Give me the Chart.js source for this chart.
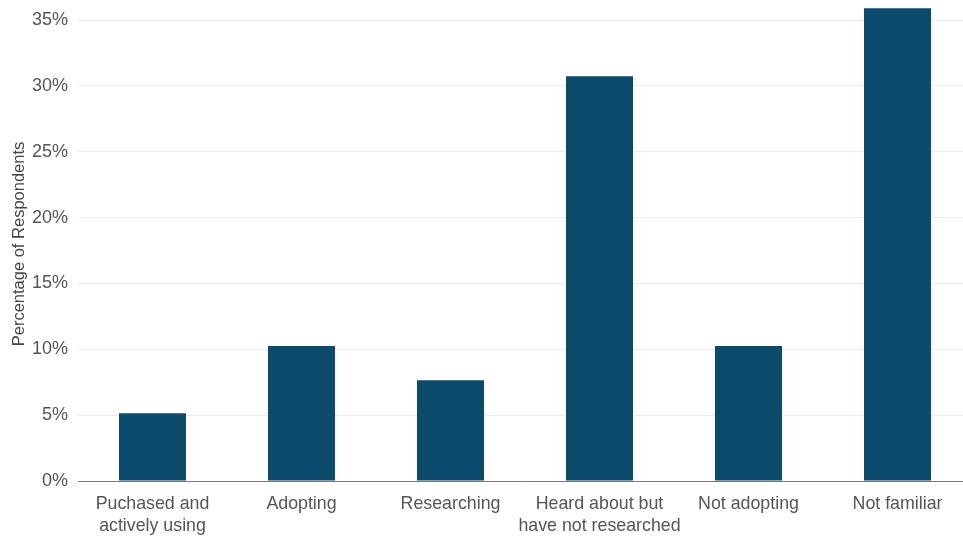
<!DOCTYPE html>
<html>
<head>
<meta charset="utf-8">
<script src="https://cdn.jsdelivr.net/npm/chart.js@4.4.1/dist/chart.umd.min.js"></script>
<style>
  html, body { margin: 0; padding: 0; background: #fff; overflow: hidden; }
  #wrap { width: 975px; height: 536px; }
</style>
</head>
<body>
<div id="wrap"><canvas id="chart" width="975" height="536"></canvas></div>
<script>
const categories = [
    ["Puchased and", "actively using"],
    "Adopting",
    "Researching",
    ["Heard about but", "have not researched"],
    "Not adopting",
    "Not familiar"
];
const respondentShare = [5.15, 10.25, 7.65, 30.75, 10.25, 35.9];
const yTicks = [0, 5, 10, 15, 20, 25, 30, 35];
const yMax = 36;

const textColor = "#555";
const fontFamily = "'Liberation Sans', Arial, sans-serif";

const ctx = document.getElementById("chart").getContext("2d");

new Chart(ctx, {
    type: "bar",
    data: {
        labels: categories,
        datasets: [{
            label: "Percentage of Respondents",
            data: respondentShare,
            backgroundColor: "#0b4a6b",
            barPercentage: 0.45,
            categoryPercentage: 1
        }]
    },
    options: {
        responsive: false,
        animation: false,
        layout: { padding: { top: 7, right: 3, left: 0, bottom: 0 } },
        plugins: {
            legend: { display: false },
            tooltip: { enabled: false }
        },
        scales: {
            x: {
                afterFit: (scale) => { scale.height = 55; },
                grid: { display: false },
                border: { display: true, color: "#777", width: 1 },
                ticks: {
                    color: textColor,
                    padding: 4,
                    maxRotation: 0,
                    autoSkip: false,
                    font: { family: fontFamily, size: 17.8, lineHeight: 1.24 }
                }
            },
            y: {
                min: 0,
                max: yMax,
                afterBuildTicks: (scale) => {
                    scale.ticks = yTicks.map(v => ({ value: v }));
                },
                afterFit: (scale) => {
                    scale.width = 78;
                    scale.paddingTop = 0;
                    scale.paddingBottom = 0;
                },
                grid: { color: "#ececec", drawTicks: false },
                border: { display: false },
                ticks: {
                    color: textColor,
                    padding: 10,
                    font: { family: fontFamily, size: 18 },
                    callback: (v) => v + "%"
                },
                title: {
                    display: true,
                    text: "Percentage of Respondents",
                    color: "#444",
                    padding: { top: 10, bottom: 0 },
                    font: { family: fontFamily, size: 16.5, lineHeight: 1.2 }
                }
            }
        }
    }
});
</script>
</body>
</html>
